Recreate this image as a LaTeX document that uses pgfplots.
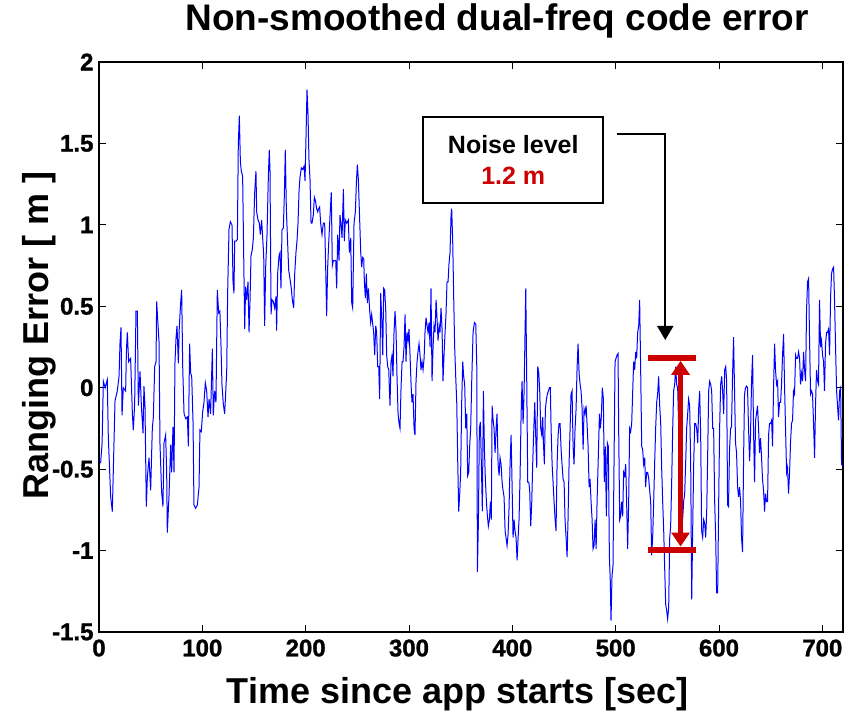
\documentclass[border=0pt]{standalone}
\usepackage{pgfplots}
\pgfplotsset{compat=1.18}
\usepackage{fontspec}
\setmainfont{Liberation Sans}
\newfontfamily\tickfont{Liberation Sans}[BoldFont={Liberation Sans Bold}, BoldFeatures={FakeBold=1.2}]
\usetikzlibrary{arrows.meta}
\definecolor{myred}{RGB}{204,0,0}
\begin{document}
\begin{tikzpicture}
\begin{axis}[
  scale only axis, width=744pt, height=570pt,
  xmin=0, xmax=720, ymin=-1.5, ymax=2,
  xtick={0,100,200,300,400,500,600,700},
  xticklabels={0,100,200,300,400,500,600,700},
  ytick={-1.5,-1,-0.5,0,0.5,1,1.5,2},
  yticklabels={-1.5,-1,-0.5,0,0.5,1,1.5,2},
  tick label style={font=\tickfont\fontsize{24}{24}\selectfont\bfseries},
  xticklabel style={yshift=-4pt},
  yticklabel style={xshift=-2pt},
  major tick length=7pt,
  tick style={black, line width=1pt},
  axis line style={line width=1.2pt},
  title={Non-smoothed dual-freq code error},
  title style={at={(axis description cs:0.535,1)}, anchor=base, yshift=25pt, font=\fontsize{37}{37}\selectfont\bfseries},
  xlabel={Time since app starts [sec]},
  xlabel style={at={(axis description cs:0.482,0)}, anchor=base, yshift=-71pt, font=\fontsize{36}{36}\selectfont\bfseries},
  ylabel={Ranging Error [ m ]},
  ylabel style={at={(axis description cs:0,0.521)}, anchor=base, yshift=50pt, font=\fontsize{36}{36}\selectfont\bfseries},
]
\addplot[blue, line width=1pt, mark=none] table {
x y
0 -0.45
1.6 -0.46
3.0 -0.34
4.2 0.04
6 0.0
8 0.05
9 -0.30
11.3 -0.67
12.9 -0.76
14.5 -0.34
15.5 -0.08
17.7 -0.02
19.4 0.07
20.3 0.27
21.3 0.37
22.3 -0.17
23.5 0.0
25.8 -0.02
26.5 0.22
27.4 0.34
28.7 0.16
30.6 0.18
32.3 -0.16
33.2 -0.26
34.5 -0.10
35.8 0.47
37.1 0.47
38.1 -0.11
39.7 0.10
41.0 -0.11
42.6 -0.28
43.5 0.01
44.5 -0.11
45.8 -0.73
46.8 -0.55
48.4 -0.43
50.0 -0.63
51.6 -0.25
52.6 -0.18
53.9 0.13
55.2 0.16
55.8 0.53
56.8 0.42
58.1 0.28
59.0 -0.34
60.6 -0.64
61.9 -0.73
62.9 -0.34
64.5 -0.29
65.5 -0.52
66.1 -0.89
67.7 -0.67
69.4 -0.35
70.3 -0.52
71.6 -0.24
72.6 -0.52
73.5 0.15
74.5 0.30
75.5 0.38
76.8 0.15
77.7 0.37
79.0 0.52
80.0 0.60
81.0 0.13
82.3 -0.16
83.9 -0.19
85.5 -0.18
86.5 -0.36
87.7 0.27
88.7 0.09
89.7 0.07
91.0 -0.21
91.9 -0.72
93.5 -0.74
95.2 -0.72
96.8 -0.61
97.7 -0.26
99.0 -0.27
100.3 -0.15
101.6 -0.09
102.9 0.03
104.2 -0.02
105.5 -0.18
106.5 -0.07
108.0 -0.16
109.7 0.24
110.6 -0.17
111.9 -0.02
113.2 -0.09
114.5 0.60
115.8 0.46
117.0 0.47
118.1 0.25
119.0 0.02
120.3 -0.10
121.6 -0.16
122.6 -0.03
123.6 0.10
124.5 0.58
125.8 0.97
127.1 1.02
128.7 1.00
129.7 0.65
130.6 0.58
131.3 0.90
132.6 0.90
133.9 0.91
134.8 1.49
135.8 1.67
136.8 1.39
137.7 1.33
139.0 1.30
139.7 0.97
141.0 0.36
141.9 0.62
142.9 0.54
144.2 0.65
145.2 0.34
146.1 0.52
147.1 0.81
148.4 0.85
149.4 0.92
150.6 1.19
151.9 1.33
152.6 1.08
153.9 1.03
155.2 1.01
156.1 0.94
157.4 1.03
158.4 0.92
159.4 0.81
160.3 0.38
161.3 0.74
162.6 0.94
163.9 1.30
164.8 1.46
165.5 1.33
166.5 0.45
167.4 0.54
168.7 0.53
170.0 0.49
171.3 0.56
171.9 0.35
172.9 0.70
174.2 0.81
175.2 0.83
176.1 0.61
177.1 0.97
178.4 0.98
179.4 1.19
180.3 1.46
181.3 1.10
182.6 0.88
183.6 0.72
184.8 0.67
186.1 0.61
187.1 0.54
188.4 0.49
189.4 0.70
190.6 0.83
191.6 0.90
192.6 1.01
193.6 1.21
194.5 1.29
195.8 1.35
197.1 1.34
198.4 1.36
199.4 1.27
200.3 1.53
201.3 1.83
202.3 1.67
203.2 1.40
204.2 1.28
205.2 1.01
206.1 1.01
207.4 1.06
208.4 1.17
209.4 1.15
210.6 1.10
211.6 1.08
212.6 1.10
213.5 1.11
214.5 1.01
215.8 0.94
217.1 1.01
218.4 1.01
219.4 0.73
220.3 0.44
221.3 0.74
222.3 0.89
223.6 1.06
224.8 1.20
225.8 0.75
226.8 0.78
228.1 0.78
229.1 0.78
230.0 0.61
231.0 0.94
232.3 0.78
233.2 1.06
234.2 1.00
235.2 0.92
236.5 1.22
237.4 0.90
238.4 1.03
239.7 1.01
241.3 1.03
242.3 0.83
243.6 0.92
244.6 0.52
245.5 0.49
246.8 1.01
248.1 1.08
249.1 1.26
250.0 1.37
251.0 1.28
252.0 1.08
253.3 0.83
254.2 0.74
255.2 0.80
256.2 0.79
256.8 0.65
257.8 0.55
258.7 0.70
259.7 0.52
260.7 0.61
262.0 0.47
262.9 0.40
263.9 0.45
264.9 0.39
265.8 0.34
266.8 0.20
267.8 0.38
268.7 0.34
269.7 0.13
270.7 0.13
271.6 -0.07
272.6 0.58
273.6 0.43
274.6 0.20
275.5 0.61
276.5 0.60
277.5 0.47
278.4 0.20
279.4 0.13
280.4 0.11
281.6 -0.11
282.6 0.16
283.6 0.20
284.5 0.07
285.5 0.34
286.5 0.47
287.5 0.34
288.4 0.07
289.4 -0.16
290.4 -0.22
291.3 -0.25
292.3 0.00
293.3 0.16
294.2 0.16
295.2 0.25
296.2 0.45
297.1 0.16
298.1 0.34
299.1 0.29
300.0 0.36
301.0 0.20
302.0 0.02
302.9 -0.09
303.9 -0.04
304.9 -0.25
305.8 -0.29
306.8 0.04
307.8 0.16
308.7 0.22
309.7 0.27
310.7 0.20
311.6 0.11
312.6 0.16
313.6 0.11
314.6 0.18
315.5 0.34
316.5 0.43
317.5 0.38
318.4 0.34
319.4 0.40
320.4 0.25
321.3 0.61
322.3 0.04
323.3 0.25
324.2 0.38
325.2 0.34
326.2 0.54
327.1 0.43
328.1 0.29
329.1 0.38
330.0 0.34
331.0 0.49
332.0 0.36
332.9 0.04
333.9 0.20
334.9 0.34
335.8 0.45
336.8 0.65
337.8 0.65
338.7 0.76
339.7 0.83
340.7 1.06
341.3 1.10
342.3 0.90
343.3 0.54
344.2 0.25
345.2 0.07
346.2 -0.09
347.1 -0.43
348.1 -0.76
349.1 -0.65
350.0 -0.52
351.0 -0.09
352.0 0.16
352.9 0.07
353.9 0.02
354.9 -0.25
355.9 -0.16
356.8 -0.54
357.8 -0.52
358.7 -0.36
359.7 -0.25
360.7 0.04
362.0 0.34
363.3 0.40
364.6 0.39
365.6 0.13
366.2 -1.13
367.2 -0.81
368.1 -0.25
369.1 -0.21
370.1 -0.49
371.0 -0.76
372.0 -0.02
373.0 -0.38
373.9 -0.56
374.9 -0.70
375.9 -0.79
376.8 -0.85
377.8 -0.81
378.8 -0.70
379.7 -0.81
380.4 -0.11
381.4 -0.20
382.3 -0.25
383.3 -0.40
384.3 -0.25
385.2 -0.16
386.2 -0.47
387.2 -0.54
388.1 -0.43
389.1 -0.47
390.1 -0.58
391.0 -0.63
392.0 -0.67
393.0 -0.88
393.9 -0.92
394.9 -0.97
395.9 -0.90
396.8 -0.74
397.8 -0.47
398.8 -0.29
399.7 -0.58
400.7 -0.92
401.7 -0.81
402.6 -0.88
403.6 -0.92
404.6 -1.06
405.6 -0.92
406.5 -0.81
407.5 -0.54
408.5 -0.16
409.4 0.04
410.4 -0.22
411.4 -0.02
412.3 0.34
413.0 0.61
413.9 0.07
414.9 -0.58
415.9 -0.58
416.8 -0.63
417.8 -0.85
418.8 -0.70
419.7 -0.47
420.7 -0.27
421.7 -0.09
422.6 -0.29
423.6 -0.49
424.6 0.13
425.6 0.09
426.5 -0.02
427.5 -0.25
428.5 -0.29
429.4 -0.18
430.1 -0.34
431.0 -0.47
432.0 -0.13
433.0 -0.07
433.9 -0.04
434.9 -0.02
435.9 0.00
436.8 0.00
437.5 -0.25
438.5 -0.47
439.4 -0.58
440.4 -0.70
441.4 -0.81
442.3 -0.88
443.3 -0.47
444.3 -0.29
445.2 -0.22
446.2 -0.22
447.2 -0.38
448.1 -0.47
449.1 -0.56
450.1 -0.58
451.0 -0.81
452.0 -0.92
453.0 -1.04
453.9 -0.81
454.9 -0.47
455.9 -0.25
456.8 -0.04
457.8 -0.02
458.8 -0.36
459.7 -0.47
460.7 -0.25
461.7 -0.13
462.6 0.11
463.6 0.27
464.6 0.09
465.6 0.02
466.5 -0.02
467.5 -0.13
468.5 -0.38
469.4 -0.13
470.4 -0.16
471.4 -0.11
472.3 -0.22
473.3 -0.36
474.3 -0.61
475.2 -0.56
476.2 -0.70
477.2 -0.81
478.1 -0.99
479.1 -0.97
480.1 -0.81
481.1 -0.99
482.0 -0.70
483.0 -0.47
484.3 -0.16
485.2 -0.25
486.1 -0.18
487.1 0.0
488.1 -0.07
489.0 -0.58
490.0 -0.36
491.0 -0.79
492.0 -0.34
492.9 -0.36
493.9 -1.03
494.8 -1.19
495.5 -1.43
496.5 -1.15
497.4 -1.10
498.4 -0.47
499.4 0.16
500.3 0.18
501.3 0.20
502.3 0.21
502.9 -0.25
503.9 -0.81
504.8 -0.79
505.8 -0.70
506.8 -0.79
507.7 -0.52
508.7 -0.54
509.7 -0.47
510.6 -0.70
511.6 -0.99
512.6 -0.70
513.5 -0.25
514.5 -0.27
515.5 -0.22
516.5 -0.02
517.4 0.16
518.4 0.11
519.4 0.22
520.3 0.18
521.3 0.34
522.3 0.38
523.2 0.54
524.2 0.11
525.2 -0.36
526.1 -0.38
527.1 -0.47
528.1 -0.43
529.0 -0.61
530.0 -0.52
531.0 -0.52
532.0 -0.56
532.9 -0.63
533.9 -0.70
534.8 -1.03
535.8 -0.92
536.8 -0.70
537.7 -0.47
538.7 -0.25
539.7 -0.09
540.6 -0.04
541.6 0.07
542.6 -0.11
543.6 -0.22
544.5 -0.49
545.5 -0.70
546.5 -0.88
547.4 -1.10
548.4 -1.33
549.4 -1.37
550.3 -1.42
551.3 -1.35
552.3 -0.92
553.2 -0.85
554.2 -0.58
555.2 -0.25
556.1 -0.02
557.1 0.02
558.1 0.13
559.0 0.02
560.0 0.00
561.0 -0.25
562.0 -0.36
562.9 -0.52
563.9 -0.81
564.8 -0.81
565.8 -0.70
566.8 -0.65
567.7 -0.47
568.7 -0.25
569.7 -0.16
570.6 -0.07
571.6 -0.11
572.6 -0.47
573.6 -1.30
574.5 -0.88
575.5 -0.47
576.5 -0.22
577.4 -0.22
578.4 -0.25
579.4 -0.34
580.3 -0.13
581.3 -0.02
582.3 -0.31
583.2 -0.88
584.2 -0.92
585.2 -0.81
586.1 -0.83
587.1 -0.92
588.1 -0.76
589.0 -0.43
590.0 -0.02
591.0 0.04
592.0 0.02
592.9 -0.02
593.9 -0.25
594.8 -0.25
595.8 -0.70
596.8 -0.92
597.7 -1.26
598.7 -1.26
599.7 -0.70
600.6 -0.25
601.6 0.02
602.6 0.07
603.5 -0.02
604.5 -0.16
605.5 0.11
606.5 0.13
607.4 0.04
608.3 -0.72
609.2 -0.73
610.2 -0.38
611.2 -0.25
612.1 -0.24
613.1 0.07
614.1 0.31
615.0 0.00
616.0 -0.34
617.0 -0.40
618.0 -0.61
618.9 -0.67
619.9 -0.61
620.9 -0.70
621.8 -0.92
622.8 -1.01
623.8 -0.43
624.7 -0.04
625.7 0.00
626.7 0.01
627.6 0.00
628.6 -0.25
629.6 -0.45
630.5 -0.29
631.5 0.04
632.5 0.20
633.4 -0.25
634.4 -0.58
635.4 -0.20
636.3 -0.16
637.3 -0.11
638.3 -0.25
639.2 -0.40
640.2 -0.31
641.2 -0.43
642.1 -0.56
643.1 -0.63
644.1 -0.76
645.0 -0.65
646.0 -0.70
647.0 -0.70
648.0 -0.29
648.9 -0.22
649.9 -0.22
650.9 -0.20
651.8 -0.36
652.8 0.00
653.8 0.27
654.7 0.11
655.7 0.02
656.7 0.04
657.6 -0.18
658.6 -0.09
659.6 -0.09
660.5 0.02
661.5 0.20
662.5 0.33
663.4 0.02
664.4 -0.25
665.4 -0.52
666.3 -0.49
667.3 -0.65
668.3 -0.52
669.2 -0.34
670.2 -0.22
671.2 -0.20
672.1 -0.02
673.1 -0.04
674.1 0.20
675.0 0.18
676.0 0.18
677.0 0.22
678.0 0.18
678.9 0.02
679.9 0.09
680.9 0.04
681.8 0.22
682.8 0.11
683.8 0.04
684.7 0.47
685.7 0.65
686.7 0.67
687.6 0.31
688.6 -0.04
689.6 -0.02
690.5 -0.04
691.5 -0.22
692.5 -0.43
693.4 -0.11
694.4 0.11
695.4 0.04
696.3 0.02
697.3 0.54
698.3 0.25
699.2 0.29
700.2 0.20
701.2 0.16
702.1 -0.02
703.1 0.27
704.1 0.34
705.0 0.34
706.0 0.36
707.0 0.20
708.0 0.56
708.9 0.70
709.9 0.73
710.9 0.74
711.8 0.54
712.8 0.25
713.8 -0.02
714.7 -0.11
715.7 -0.20
716.7 -0.02
717.7 0.00
718.6 -0.47
719.6 -0.48
};
% annotation box
\draw[line width=2pt, fill=white] (313.8,1.132) rectangle (488,1.660);
\node[anchor=base, font=\fontsize{25}{25}\selectfont\bfseries] at (400.9,1.44) {Noise level};
\node[anchor=base, text=myred, font=\fontsize{25}{25}\selectfont\bfseries] at (400.9,1.245) {1.2 m};
% black arrow
\draw[line width=2pt, -{Triangle[width=16pt,length=14pt]}] (501,1.558) -- (548,1.558) -- (548,0.293);
% red bars and double arrow
\draw[myred, line width=6pt] (531.6,0.185) -- (577.8,0.185);
\draw[myred, line width=6pt] (531.6,-0.995) -- (577.8,-0.995);
\draw[myred, line width=5pt, {Triangle[width=18pt,length=14pt]}-{Triangle[width=18pt,length=14pt]}] (562.8,0.165) -- (562.8,-0.975);
\end{axis}
\pgfresetboundingbox
\useasboundingbox (-99pt,-85pt) rectangle (754pt,632pt);
\end{tikzpicture}
\end{document}
